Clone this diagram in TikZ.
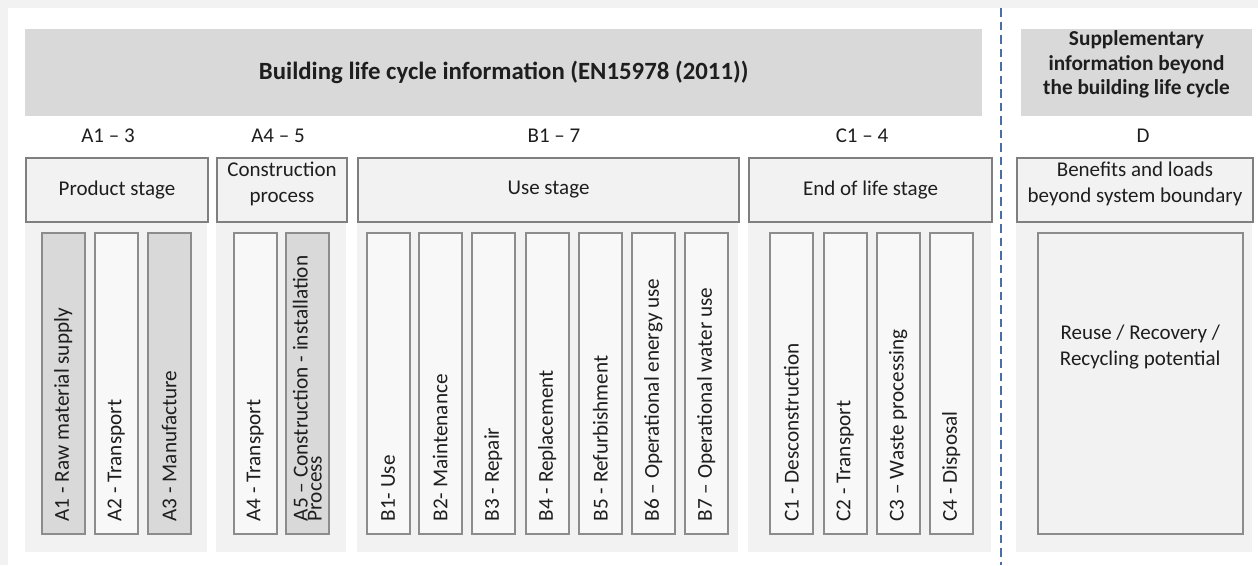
\documentclass[tikz,border=0pt]{standalone}
\usepackage{fontspec}
\setmainfont{Carlito}
\definecolor{bannerc}{HTML}{D9D9D9}
\definecolor{panelc}{HTML}{F2F2F2}
\definecolor{edgec}{HTML}{7F7F7F}
\definecolor{vedgec}{HTML}{8C8C8C}
\definecolor{lightc}{HTML}{F8F8F8}
\definecolor{dashc}{HTML}{4A6FA5}
\definecolor{inkc}{HTML}{1E1E1E}
\begin{document}
\begin{tikzpicture}[x=1pt,y=-1pt,
  every node/.style={font=\fontsize{21}{26}\selectfont, text=inkc},
  bannerbox/.style={fill=bannerc, draw=none, anchor=north west, inner sep=0, minimum height=87},
  panelbox/.style={fill=panelc, draw=none, anchor=north west, inner sep=0, minimum height=395},
  hdrbox/.style={fill=panelc, draw=edgec, line width=2pt, anchor=north west, inner sep=0, minimum height=64, align=center},
  vbox/.style={draw=vedgec, line width=1.5pt, anchor=north west, inner sep=0, minimum width=43, minimum height=301},
  lightbox/.style={vbox, fill=lightc},
  darkbox/.style={vbox, fill=bannerc},
  vtext/.style={rotate=90, anchor=west, inner sep=0, font=\fontsize{21.2}{15}\selectfont},
  rangetext/.style={inner sep=0},
  dashln/.style={draw=dashc, line width=2.2pt, dash pattern=on 8.5pt off 5pt}
]
\useasboundingbox (0,0) rectangle (1258,565);
\fill[panelc] (0,0) rectangle (1258,565);
\fill[white] (8,8) rectangle (1258,565);

% banners
\node[bannerbox, minimum width=957, font=\fontsize{24.8}{30}\selectfont\bfseries] (main) at (25,29) {Building life cycle information (EN15978 (2011))};
\node[bannerbox, minimum width=231] (supp) at (1021,29) {};
\node[align=center, inner sep=0, font=\fontsize{21.3}{24.5}\selectfont\bfseries] (supptext) at (1136.5,64.5) {Supplementary\\information beyond\\the building life cycle};

% separator
\coordinate (septop) at (1001,8);
\coordinate (sepbot) at (1001,565);
\draw[dashln] (septop) -- (sepbot);

% range labels
\node[rangetext] (ra) at (108,136) {A1 – 3};
\node[rangetext] (rb) at (278,136) {A4 – 5};
\node[rangetext] (rc) at (554,136) {B1 – 7};
\node[rangetext] (rd) at (862,136) {C1 – 4};
\node[rangetext] (re) at (1143,136) {D};

% panels
\node[panelbox, minimum width=182] (pa) at (25,157) {};
\node[panelbox, minimum width=130] (pb) at (216,157) {};
\node[panelbox, minimum width=381] (pc) at (357,157) {};
\node[panelbox, minimum width=243] (pd) at (748,157) {};
\node[panelbox, minimum width=236] (pe) at (1016,157) {};

% stage headers
\node[hdrbox, minimum width=182] (ha) at (25,157) {Product stage};
\node[hdrbox, minimum width=130, label={[yshift=6pt, align=center, inner sep=0]center:Construction\\process}] (hb) at (216,157) {};
\node[hdrbox, minimum width=381] (hc) at (357,157) {Use stage};
\node[hdrbox, minimum width=243] (hd) at (748,157) {End of life stage};
\node[hdrbox, minimum width=236, label={[yshift=6pt, align=center, inner sep=0]center:Benefits and loads\\beyond system boundary}] (he) at (1016,157) {};

% modules
\node[darkbox]  (a1) at (41,232) {};
\node[lightbox] (a2) at (94,232) {};
\node[darkbox]  (a3) at (147,232) {};
\node[lightbox] (a4) at (233,232) {};
\node[darkbox]  (a5) at (285,232) {};
\node[lightbox] (b1) at (366,232) {};
\node[lightbox] (b2) at (418,232) {};
\node[lightbox] (b3) at (471,232) {};
\node[lightbox] (b4) at (525,232) {};
\node[lightbox] (b5) at (578,232) {};
\node[lightbox] (b6) at (631,232) {};
\node[lightbox] (b7) at (684,232) {};
\node[lightbox] (c1) at (769,232) {};
\node[lightbox] (c2) at (823,232) {};
\node[lightbox] (c3) at (876,232) {};
\node[lightbox] (c4) at (929,232) {};
\node[vbox, fill=panelc, minimum width=205, label={[yshift=36pt, align=center, inner sep=0]center:Reuse / Recovery /\\Recycling potential}] (d1) at (1037,232) {};

% module texts
\node[vtext] (ta1) at ([yshift=13pt]a1.south) {A1 - Raw material supply};
\node[vtext] (ta2) at ([yshift=13pt]a2.south) {A2 - Transport};
\node[vtext] (ta3) at ([yshift=13pt]a3.south) {A3 - Manufacture};
\node[vtext] (ta4) at ([yshift=13pt]a4.south) {A4 - Transport};
\node[vtext, align=left, font=\fontsize{21.3}{14}\selectfont] (ta5) at ([yshift=13pt]a5.south) {A5 – Construction - installation\\Process};
\node[vtext] (tb1) at ([yshift=13pt]b1.south) {B1- Use};
\node[vtext] (tb2) at ([yshift=13pt]b2.south) {B2- Maintenance};
\node[vtext] (tb3) at ([yshift=13pt]b3.south) {B3 - Repair};
\node[vtext] (tb4) at ([yshift=13pt]b4.south) {B4 - Replacement};
\node[vtext] (tb5) at ([yshift=13pt]b5.south) {B5 - Refurbishment};
\node[vtext] (tb6) at ([yshift=13pt]b6.south) {B6 – Operational energy use};
\node[vtext] (tb7) at ([yshift=13pt]b7.south) {B7 – Operational water use};
\node[vtext] (tc1) at ([yshift=13pt]c1.south) {C1 - Desconstruction};
\node[vtext] (tc2) at ([yshift=13pt]c2.south) {C2 - Transport};
\node[vtext] (tc3) at ([yshift=13pt]c3.south) {C3 – Waste processing};
\node[vtext] (tc4) at ([yshift=13pt]c4.south) {C4 - Disposal};
\end{tikzpicture}
\end{document}
